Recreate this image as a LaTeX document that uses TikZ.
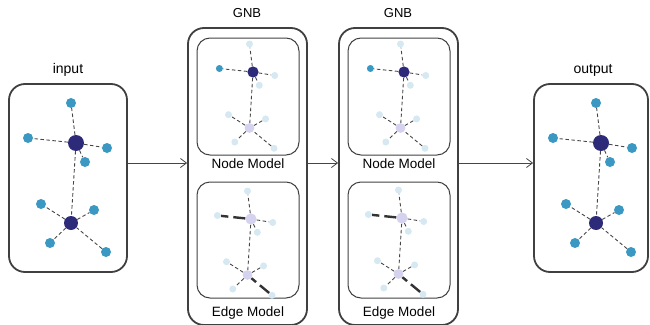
\documentclass[tikz,border=0pt]{standalone}
\usepackage{fontspec}
\setmainfont{Liberation Sans}
\usetikzlibrary{arrows.meta,positioning}

\definecolor{leafblue}{RGB}{58,152,195}
\definecolor{hubnavy}{RGB}{46,42,122}
\definecolor{leafpale}{RGB}{214,232,242}
\definecolor{hubpale}{RGB}{212,210,238}
\definecolor{framegray}{RGB}{64,64,64}
\definecolor{bondgray}{RGB}{70,70,70}

\tikzset{
	outerbox/.style={draw=framegray, line width=1.8pt, rounded corners=16pt},
	innerbox/.style={draw=framegray, line width=1pt, rounded corners=13pt},
	atom/.style={circle, inner sep=0pt},
	bond/.style={draw=bondgray, line width=0.9pt, dash pattern=on 3.5pt off 2.5pt},
	boldbond/.style={draw=black!80, line width=2.4pt, dash pattern=on 12pt off 5pt},
	flow/.style={draw=bondgray, line width=0.8pt, -{Straight Barb[length=6pt,width=9pt]}},
	title/.style={font=\fontsize{14}{16}\selectfont, inner sep=0.75pt},
	subtitle/.style={font=\fontsize{13.5}{15}\selectfont, inner sep=0.75pt},
}

% #1 prefix, #2 upper hub, #3 scale, #4 upper hub fill, #5 lower hub fill,
% #6 left leaf fill, #7 other leaves fill, #8 style of the two marked bonds
\newcommand{\molgraph}[8]{%
	\begin{scope}[shift={#2}]
		\node[atom, fill=#4, minimum size=16pt*#3] (#1h1) at (0,0) {};
		\node[atom, fill=#5, minimum size=14pt*#3] (#1h2) at (-5*#3,80*#3) {};
		\node[atom, fill=#7, minimum size=10pt*#3] (#1a1) at (-5*#3,-40*#3) {};
		\node[atom, fill=#6, minimum size=10pt*#3] (#1a2) at (-48*#3,-5*#3) {};
		\node[atom, fill=#7, minimum size=10pt*#3] (#1a3) at (31*#3,5*#3) {};
		\node[atom, fill=#7, minimum size=10pt*#3] (#1a4) at (9*#3,19*#3) {};
		\node[atom, fill=#7, minimum size=10pt*#3] (#1b1) at (-35*#3,61*#3) {};
		\node[atom, fill=#7, minimum size=10pt*#3] (#1b2) at (18*#3,67*#3) {};
		\node[atom, fill=#7, minimum size=10pt*#3] (#1b3) at (-26*#3,100*#3) {};
		\node[atom, fill=#7, minimum size=10pt*#3] (#1b4) at (30*#3,109*#3) {};
		\draw[bond] (#1h1) -- (#1a1);
		\draw[#8] (#1h1) -- (#1a2);
		\draw[bond] (#1h1) -- (#1a3);
		\draw[bond] (#1h1) -- (#1a4);
		\draw[bond] (#1h1) -- (#1h2);
		\draw[bond] (#1h2) -- (#1b1);
		\draw[bond] (#1h2) -- (#1b2);
		\draw[bond] (#1h2) -- (#1b3);
		\draw[#8] (#1b4) -- (#1h2);
	\end{scope}}

\begin{document}
\begin{tikzpicture}[x=1pt,y=1pt,yscale=-1]
	\useasboundingbox (0,0) rectangle (650,324);

	% Frames
	\node[outerbox, minimum width=118pt, minimum height=188pt] (inbox) at (68,178) {};
	\node[outerbox, minimum width=119pt, minimum height=297pt] (gnbA) at (247.5,176.5) {};
	\node[outerbox, minimum width=119pt, minimum height=297pt] (gnbB) at (398.5,176.5) {};
	\node[outerbox, minimum width=114pt, minimum height=188pt] (outbox) at (591,178) {};

	% Inner model frames
	\node[innerbox, minimum width=102pt, minimum height=117pt] (nodeA) at (248,96.5) {};
	\node[innerbox, minimum width=102pt, minimum height=116pt] (edgeA) at (248,240) {};
	\node[innerbox, minimum width=102pt, minimum height=117pt] (nodeB) at (399,96.5) {};
	\node[innerbox, minimum width=102pt, minimum height=116pt] (edgeB) at (399,240) {};

	% Labels
	\node[title] (inlabel) at (68,70) {input};
	\node[title] (outlabel) at (593,70) {output};
	\node[title, font=\fontsize{13}{15}\selectfont] (gnbAlabel) at (247,13) {GNB};
	\node[title, font=\fontsize{13}{15}\selectfont] (gnbBlabel) at (398,13) {GNB};
	\node[subtitle] (nodeAlabel) at (248,164) {Node Model};
	\node[subtitle] (edgeAlabel) at (248,313) {Edge Model};
	\node[subtitle] (nodeBlabel) at (399,164) {Node Model};
	\node[subtitle] (edgeBlabel) at (399,313) {Edge Model};

	% Graphs
	\molgraph{in}{(76,143)}{1}{hubnavy}{hubnavy}{leafblue}{leafblue}{bond}
	\molgraph{out}{(601,143)}{1}{hubnavy}{hubnavy}{leafblue}{leafblue}{bond}
	\molgraph{nA}{(253,72)}{0.7}{hubnavy}{hubpale}{leafblue}{leafpale}{bond}
	\molgraph{eA}{(251,219)}{0.7}{hubpale}{hubpale}{leafpale}{leafpale}{boldbond}
	\molgraph{nB}{(404,72)}{0.7}{hubnavy}{hubpale}{leafblue}{leafpale}{bond}
	\molgraph{eB}{(402,218)}{0.7}{hubpale}{hubpale}{leafpale}{leafpale}{boldbond}

	% Flow between stages
	\coordinate (lane) at (0,163);
	\draw[flow] (inbox.east |- lane) -- (gnbA.west |- lane);
	\draw[flow] (gnbA.east |- lane) -- (gnbB.west |- lane);
	\draw[flow] (gnbB.east |- lane) -- (outbox.west |- lane);
\end{tikzpicture}
\end{document}
